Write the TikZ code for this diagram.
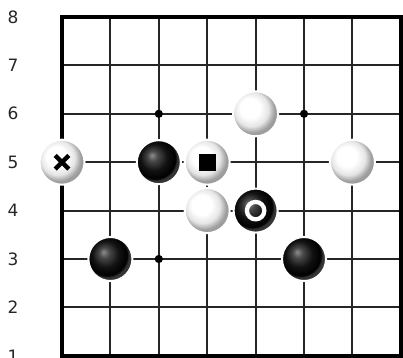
\documentclass[tikz,border=0pt]{standalone}
\usepackage{fontspec}
\setmainfont{DejaVu Sans}
\usetikzlibrary{positioning}

% stone shadings
\pgfdeclareradialshading{whiteball}{\pgfpoint{-8bp}{8bp}}{color(0bp)=(white); color(11bp)=(white); color(19bp)=(black!10); color(25bp)=(black!38); color(50bp)=(black!45)}
\pgfdeclareradialshading{blackball}{\pgfpoint{-8bp}{8bp}}{color(0bp)=(black!45); color(6bp)=(black!72); color(15bp)=(black!93); color(23bp)=(black); color(25bp)=(black!80); color(50bp)=(black!70)}

\begin{document}
\begin{tikzpicture}[
    gridline/.style={line width=1.2pt, black!85},
    border/.style={line width=2.2pt, black},
    whitestone/.style={circle, minimum size=0.93cm, inner sep=0pt, shading=whiteball, draw=white, line width=1.2pt},
    blackstone/.style={circle, minimum size=0.91cm, inner sep=0pt, shading=blackball, draw=white, line width=1.2pt},
    hoshi/.style={circle, fill=black, inner sep=0pt, minimum size=0.17cm},
    rowlabel/.style={font=\fontsize{10}{12}\selectfont, text=black!85}
]
\useasboundingbox (-1.281,-0.041) rectangle (7.045,7.351);

% Grid
\foreach \i in {1,...,6} {
    \draw [gridline] (\i,0) -- (\i,7);
    \draw [gridline] (0,\i) -- (7,\i);
}
\draw [border] (0,0) rectangle (7,7);

% Row labels
\foreach \r in {1,...,8}
    \node (row\r) [rowlabel] at (-1.01,\r-1) {\r};

% Star points
\node (hoshi_c6) [hoshi] at (2,5) {};
\node (hoshi_f6) [hoshi] at (5,5) {};
\node (hoshi_c3) [hoshi] at (2,2) {};

% Stones
\node (white_a5) [whitestone] at (0,4) {};
\node (black_c5) [blackstone] at (2,4) {};
\node (white_d5) [whitestone] at (3,4) {};
\node (white_e6) [whitestone] at (4,5) {};
\node (white_g5) [whitestone] at (6,4) {};
\node (white_d4) [whitestone] at (3,3) {};
\node (black_e4) [blackstone] at (4,3) {};
\node (black_b3) [blackstone] at (1,2) {};
\node (black_f3) [blackstone] at (5,2) {};

% Marks
\draw [line width=2.6pt] ([shift={(-0.14,-0.14)}]white_a5.center) -- ([shift={(0.14,0.14)}]white_a5.center)
    ([shift={(-0.14,0.14)}]white_a5.center) -- ([shift={(0.14,-0.14)}]white_a5.center);
\fill ([shift={(-0.175,-0.175)}]white_d5.center) rectangle ([shift={(0.175,0.175)}]white_d5.center);
\draw [white, line width=2.5pt] (black_e4.center) circle (0.18);

\end{tikzpicture}
\end{document}
